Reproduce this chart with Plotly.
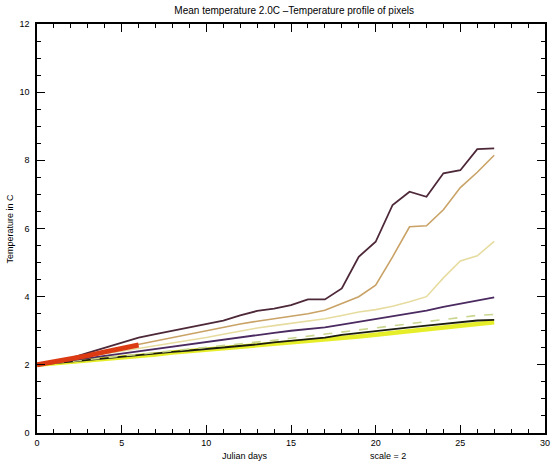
import plotly.graph_objects as go

# Julian days 0..27
days = list(range(28))

# Temperature profiles (C) of individual pixels
temp_maroon = [2.0, 2.1, 2.2, 2.35, 2.5, 2.65, 2.8, 2.9, 3.0, 3.1, 3.2, 3.3, 3.45, 3.58,
               3.65, 3.75, 3.92, 3.92, 4.24, 5.17, 5.61, 6.69, 7.08, 6.93, 7.62, 7.71, 8.33, 8.35]
temp_tan = [2.0, 2.1, 2.2, 2.3, 2.4, 2.52, 2.62, 2.72, 2.8, 2.9, 3.0, 3.1, 3.2, 3.28,
            3.35, 3.42, 3.5, 3.6, 3.8, 4.0, 4.34, 5.17, 6.05, 6.08, 6.55, 7.2, 7.65, 8.15]
temp_beige = [2.0, 2.08, 2.15, 2.22, 2.3, 2.38, 2.47, 2.55, 2.63, 2.72, 2.8, 2.9, 3.0, 3.08,
              3.15, 3.22, 3.3, 3.35, 3.45, 3.55, 3.62, 3.72, 3.85, 4.0, 4.55, 5.05, 5.2, 5.62]
temp_purple = [2.0, 2.06, 2.12, 2.19, 2.26, 2.33, 2.4, 2.46, 2.52, 2.59, 2.66, 2.74, 2.82, 2.88,
               2.94, 3.0, 3.05, 3.1, 3.18, 3.26, 3.35, 3.42, 3.5, 3.59, 3.7, 3.8, 3.9, 3.98]
temp_lightgreen = [2.0, 2.05, 2.1, 2.15, 2.2, 2.25, 2.3, 2.35, 2.4, 2.45, 2.5, 2.55, 2.6, 2.66,
                   2.72, 2.78, 2.84, 2.9, 2.96, 3.02, 3.08, 3.14, 3.2, 3.28, 3.34, 3.4, 3.45, 3.48]
temp_black = [2.0, 2.05, 2.1, 2.15, 2.2, 2.25, 2.29, 2.33, 2.38, 2.42, 2.46, 2.5, 2.55, 2.6,
              2.66, 2.71, 2.76, 2.8, 2.88, 2.94, 2.98, 3.04, 3.1, 3.15, 3.2, 3.25, 3.3, 3.32]
temp_yellow = [2.0, 2.04, 2.08, 2.12, 2.16, 2.2, 2.25, 2.3, 2.36, 2.4, 2.44, 2.48, 2.52, 2.56,
               2.6, 2.64, 2.68, 2.72, 2.77, 2.83, 2.88, 2.94, 3.0, 3.05, 3.1, 3.15, 3.2, 3.25]
red_days = [0, 1, 2, 3, 4, 5, 6]
temp_red = [2.0, 2.08, 2.17, 2.27, 2.38, 2.48, 2.58]

x_ticks = [0, 5, 10, 15, 20, 25, 30]
y_ticks = [0, 2, 4, 6, 8, 10, 12]

fig = go.Figure()

series = [
    (days, temp_yellow, "#e6ee2a", 4.5, "solid"),
    (days, temp_black, "#1c1c10", 1.8, "solid"),
    (days, temp_lightgreen, "#c9d68e", 1.6, "dash"),
    (days, temp_purple, "#4a2a60", 1.8, "solid"),
    (days, temp_beige, "#e6dca0", 1.6, "solid"),
    (days, temp_tan, "#c9a266", 1.6, "solid"),
    (days, temp_maroon, "#4d2838", 1.8, "solid"),
    (red_days, temp_red, "#dc3a12", 5.0, "solid"),
]
for xs, ys, col, w, dash in series:
    fig.add_trace(go.Scatter(x=xs, y=ys, mode="lines",
                             line=dict(color=col, width=w, dash=dash),
                             showlegend=False, hoverinfo="skip"))

axis_common = dict(
    showgrid=False, zeroline=False, showline=True, linecolor="black", linewidth=1.5,
    mirror="allticks", ticks="inside", tickcolor="black", ticklen=8, tickwidth=1.3,
    tickfont=dict(family="Liberation Sans", size=9, color="black"),
)

fig.update_xaxes(range=[0, 30], tickvals=x_ticks, ticktext=[str(v) for v in x_ticks],
                 minor=dict(ticks="inside", dtick=1, ticklen=4, tickcolor="black", tickwidth=1.1),
                 **axis_common)
fig.update_yaxes(range=[0, 12], tickvals=y_ticks, ticktext=[str(v) for v in y_ticks],
                 ticklabelstandoff=4,
                 minor=dict(ticks="inside", dtick=0.5, ticklen=4, tickcolor="black", tickwidth=1.1),
                 **axis_common)

fig.update_layout(
    width=555, height=466,
    margin=dict(l=37, r=5, t=24, b=33),
    paper_bgcolor="white", plot_bgcolor="white",
    title=dict(text="Mean temperature 2.0C \u2013Temperature profile of pixels",
               x=0.53, xanchor="center", y=0.985, yanchor="top",
               font=dict(family="Liberation Sans", size=10, color="black")),
    annotations=[
        dict(text="Julian days", xref="paper", yref="paper", x=0.41, y=-0.04,
             xanchor="center", yanchor="top", showarrow=False,
             font=dict(family="Liberation Sans", size=9, color="black")),
        dict(text="scale = 2", xref="paper", yref="paper", x=0.69, y=-0.04,
             xanchor="center", yanchor="top", showarrow=False,
             font=dict(family="Liberation Sans", size=9, color="black")),
        dict(text="Temperature in C", xref="paper", yref="paper", x=-0.055, y=0.5,
             xanchor="center", yanchor="middle", textangle=-90, showarrow=False,
             font=dict(family="Liberation Sans", size=9, color="black")),
    ],
)

fig.write_html("out.html")
